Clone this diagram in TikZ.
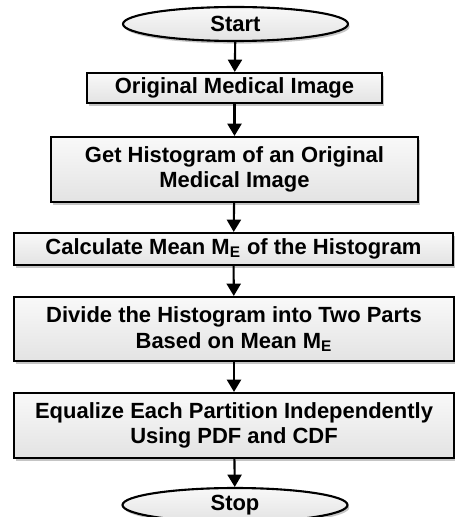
\documentclass[tikz,border=0pt]{standalone}
\usepackage{fontspec}
\setmainfont{Liberation Sans}
\usetikzlibrary{shapes.geometric,shadows,arrows.meta}

\begin{document}
\begin{tikzpicture}[font=\fontsize{12.5}{14.5}\selectfont\bfseries,
	box/.style={draw,rectangle,line width=1.2pt,align=center,inner sep=0pt,
		top color=gray!5,bottom color=gray!22,
		drop shadow={shadow xshift=1pt,shadow yshift=-1.5pt,fill=black!45}},
	term/.style={draw,ellipse,line width=1.2pt,inner sep=0pt,
		top color=gray!5,bottom color=gray!22,
		drop shadow={shadow xshift=1pt,shadow yshift=-1.5pt,fill=black!45}},
	arr/.style={line width=1.2pt,-{Triangle[length=7pt,width=8pt]}}]
			\useasboundingbox (0,0) rectangle (9.1,-10.34);
			\clip (0,0) rectangle (9.1,-10.34);
			\node [term,minimum width=4.5cm,minimum height=0.68cm] (start) at (4.71,-0.48) {Start};
			\node [box,minimum width=5.9cm,minimum height=0.6cm] (1) at (4.69,-1.76) {Original Medical Image};
			\node [box,minimum width=7.34cm,minimum height=1.3cm] (2) at (4.69,-3.39) {Get Histogram of an Original\\Medical Image};
			\node [box,minimum width=8.78cm,minimum height=0.64cm] (3) at (4.67,-4.98) {Calculate Mean M\textsubscript{E} of the Histogram};
			\node [box,minimum width=8.8cm,minimum height=1.28cm] (4) at (4.68,-6.58) {Divide the Histogram into Two Parts\\Based on Mean M\textsubscript{E}};
			\node [box,minimum width=8.8cm,minimum height=1.3cm] (5) at (4.68,-8.51) {Equalize Each Partition Independently\\Using PDF and CDF};
			\node [term,minimum width=4.5cm,minimum height=0.68cm] (stop) at (4.70,-10.1) {Stop};
			\draw [arr] (start) -- (1);
			\draw [arr] (1) -- (2);
			\draw [arr] (2) -- (3);
			\draw [arr] (3) -- (4);
			\draw [arr] (4) -- (5);
			\draw [arr] (5) -- (stop);
		\end{tikzpicture}
\end{document}
